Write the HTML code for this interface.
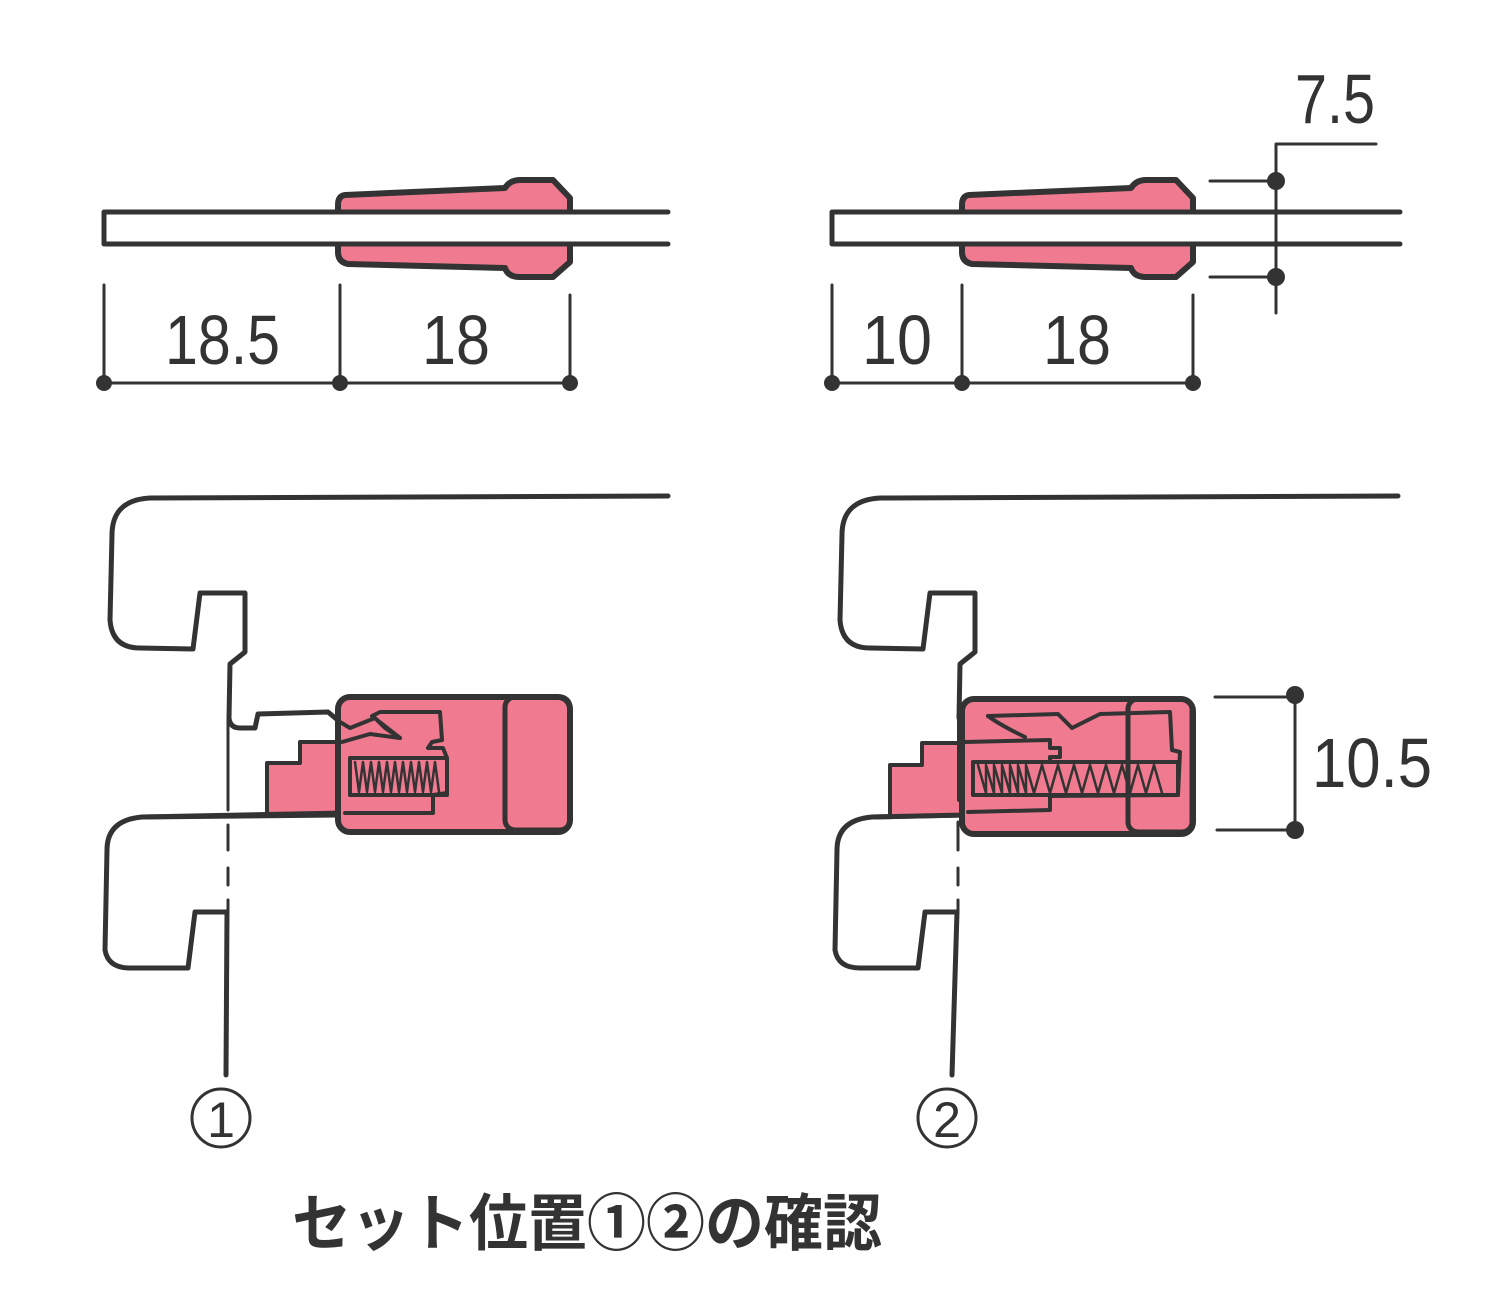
<!DOCTYPE html>
<html><head><meta charset="utf-8"><style>html,body{margin:0;padding:0;background:#fff}svg{display:block}</style></head>
<body>
<svg width="1486" height="1299" viewBox="0 0 1486 1299" xmlns="http://www.w3.org/2000/svg">
<g stroke="#333" stroke-width="5" fill="none" stroke-linejoin="round" stroke-linecap="round">
<!-- TOP LEFT -->
<path d="M345,195 L505,188 Q510,180 520,180 L553,180 L570,198 L570,262 L553,277 L520,277 Q508,277 505,268 L348,264 Q338,262 338,252 L338,205 Q338,196 345,195 Z" fill="#f07a8f" stroke-width="6"/>
<rect x="300" y="214" width="280" height="29" fill="#fff" stroke="none"/>
<path d="M668,212 L104,212 L104,244 L668,244"/>
<path d="M104,285 V383 M340,285 V383 M570,295 V383 M104,383 H570" stroke-width="3"/>
<!-- TOP RIGHT -->
<path d="M969,195 L1131,188 Q1136,180 1146,180 L1176,180 L1193,198 L1193,262 L1176,277 L1146,277 Q1134,277 1131,268 L972,264 Q962,262 962,252 L962,205 Q962,196 969,195 Z" fill="#f07a8f" stroke-width="6"/>
<rect x="940" y="214" width="265" height="29" fill="#fff" stroke="none"/>
<path d="M1400,212 L832,212 L832,244 L1400,244"/>
<path d="M832,285 V383 M962,285 V383 M1193,295 V383 M832,383 H1193" stroke-width="3"/>
<path d="M1276,313 V144 H1376 M1210,181 H1276 M1210,277 H1276" stroke-width="3"/>
<!-- BOTTOM LEFT outline -->
<path d="M668,496 L150,498 Q112,500 112,535 L110,620 Q112,648 140,648 L193,649 L200,593 L245,593 L245,652 L230,664 L229,718 Q230,728 240,728 L255,728 L258,714 L328,712 L340,722"/>
<path d="M340,815 L142,817 Q107,820 107,850 L105,950 Q108,968 130,968 L188,968 L195,912 L227,912 L226,1075"/>
<path d="M228,718 V810 M228,825 V850 M228,868 V885 M228,900 V912" stroke-width="3"/>
<!-- pink steps -->
<path d="M267,813 L267,763 L300,763 L300,742 L345,742 L345,813 Z" fill="#f07a8f" stroke="none"/>
<path d="M267,813 L267,763 L300,763 L300,742 L340,742" stroke-width="4"/>
<path d="M142,817 L345,813" />
<rect x="338" y="697" width="232" height="135" rx="12" fill="#f07a8f" stroke-width="6"/>
<rect x="505" y="697" width="65" height="133" rx="10" fill="none" stroke-width="5"/>
<path d="M340,722 L350,728 L375,718 L385,728 L400,738 L372,716 L380,712 L440,712 L442,740 L432,742 L428,748 L443,748 L447,758 L447,793 L433,795 L433,813 L345,813" stroke-width="4"/>
<path d="M342,742 L370,734 L400,738" stroke-width="4"/>
<rect x="350" y="758" width="97" height="37" fill="none" stroke-width="4"/>
<path d="M355,762 l4,30 l4,-30 l4,30 l4,-30 l4,30 l4,-30 l4,30 l4,-30 l4,30 l4,-30 l4,30 l4,-30 l4,30 l4,-30 l4,30 l4,-30 l4,30 l4,-30 l4,30 l4,-30 l4,30" stroke-width="2.5"/>
<!-- BOTTOM RIGHT outline -->
<path d="M1398,496 L880,498 Q842,500 842,535 L840,620 Q842,648 870,648 L923,649 L930,593 L975,593 L975,652 L960,664 L959,718 L962,725"/>
<path d="M962,815 L872,817 Q837,820 837,850 L835,950 Q838,968 860,968 L918,968 L925,912 L957,912 L952,1075"/>
<path d="M958,822 V850 M958,868 V885 M958,900 V912" stroke-width="3"/>
<path d="M890,815 L890,765 L922,765 L922,743 L968,743 L968,815 Z" fill="#f07a8f" stroke="none"/>
<path d="M890,815 L890,765 L922,765 L922,743 L962,743" stroke-width="4"/>
<path d="M872,817 L965,815"/>
<rect x="962" y="699" width="231" height="135" rx="12" fill="#f07a8f" stroke-width="6"/>
<path d="M959,718 V800" stroke-width="4"/>
<rect x="1128" y="699" width="64" height="133" rx="10" fill="none" stroke-width="5"/>
<path d="M988,716 L1058,714 L1072,728 L1100,714 L1170,712 L1172,750 L1180,752 L1178,795 L1050,796 L1050,810 L968,812" stroke-width="4"/>
<path d="M965,742 L1050,740 L1050,748 L1060,748 L1060,757 L1050,757 L1050,762 L1010,762" stroke-width="4"/>
<path d="M988,716 Q1000,725 1025,737" stroke-width="4"/>
<rect x="973" y="762" width="205" height="33" fill="none" stroke-width="4"/>
<path d="M978,765 l8,28 l0,-28 l8,28 l0,-28 l8,28 l0,-28 l8,28 l0,-28 l8,28 l0,-28 l8,28 l0,-28 l8,28 l8,-28 l8,28 l8,-28 l8,28 l8,-28 l8,28 l8,-28 l8,28 l8,-28 l8,28 l8,-28 l8,28 l8,-28 l8,28 l8,-28 l8,28" stroke-width="2.5"/>
<path d="M1215,697 H1295 V830 M1217,830 H1295" stroke-width="3"/>
<!-- circles -->
<circle cx="221" cy="1118" r="29" stroke-width="3"/>
<circle cx="947" cy="1118" r="29" stroke-width="3"/>
</g>
<g fill="#333">
<circle cx="104" cy="383" r="8"/><circle cx="340" cy="383" r="8"/><circle cx="570" cy="383" r="8"/>
<circle cx="832" cy="383" r="8"/><circle cx="962" cy="383" r="8"/><circle cx="1193" cy="383" r="8"/>
<circle cx="1276" cy="181" r="9"/><circle cx="1276" cy="277" r="9"/>
<circle cx="1295" cy="695" r="9"/><circle cx="1295" cy="830" r="9"/>
</g>
<g fill="#333" font-family="Liberation Sans, sans-serif" font-size="70">
<text x="165" y="364" textLength="115" lengthAdjust="spacingAndGlyphs">18.5</text>
<text x="422" y="364" textLength="68" lengthAdjust="spacingAndGlyphs">18</text>
<text x="862" y="364" textLength="70" lengthAdjust="spacingAndGlyphs">10</text>
<text x="1043" y="364" textLength="68" lengthAdjust="spacingAndGlyphs">18</text>
<text x="1295" y="123" textLength="80" lengthAdjust="spacingAndGlyphs">7.5</text>
<text x="1312" y="787" textLength="120" lengthAdjust="spacingAndGlyphs">10.5</text>
<text x="221" y="1137" font-size="50" text-anchor="middle">1</text>
<text x="947" y="1137" font-size="50" text-anchor="middle">2</text>
<text x="292" y="1245" font-size="62" font-weight="bold" font-family="Liberation Sans, Noto Sans CJK JP, sans-serif" textLength="590" lengthAdjust="spacingAndGlyphs">セット位置①②の確認</text>
</g>
</svg>
</body></html>
